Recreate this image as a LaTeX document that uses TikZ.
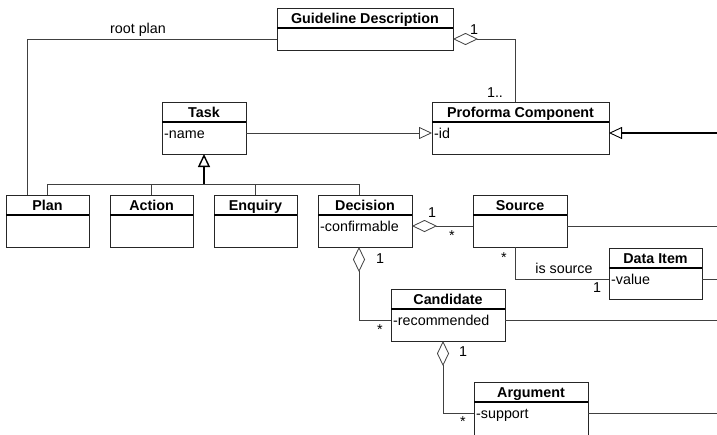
\documentclass[tikz,border=0pt]{standalone}
\usepackage{fontspec}
\setmainfont{Liberation Sans}
\usetikzlibrary{arrows.meta,calc}

\tikzset{
  clsbox/.style={draw=black!85, line width=0.9pt, fill=white, anchor=north west,
    inner sep=0pt, outer sep=0pt},
  hdrline/.style={draw=black, line width=1.6pt},
  clstitle/.style={font=\fontsize{14.3}{16}\selectfont\bfseries, anchor=base, inner sep=0pt},
  clsattr/.style={font=\fontsize{14.3}{16}\selectfont, anchor=base west, inner sep=0pt},
  lbl/.style={font=\fontsize{14.3}{16}\selectfont, inner sep=0pt},
  conn/.style={draw=black!75, line width=0.8pt},
  aggr/.style={conn, {Diamond[open,length=25pt,width=12pt]}-},
  gen/.style={conn, -{Triangle[open,length=13pt,width=12pt]}},
  genthick/.style={draw=black, line width=1.6pt, -{Triangle[open,length=13pt,width=12pt,line width=0.9pt]}},
}

% class box: name, x, y, width, height, title, attribute
\newcommand\umlclass[7]{%
  \node[clsbox, minimum width=#4pt, minimum height=#5pt] (#1) at (#2,#3) {};
  \draw[hdrline] ([yshift=-20pt]#1.north west) -- ([yshift=-20pt]#1.north east);
  \node[clstitle] (#1-t) at ([yshift=-15.5pt]#1.north) {#6};
  \node[clsattr] (#1-a) at ([xshift=2pt,yshift=-36pt]#1.north west) {#7};
  \coordinate (#1-L) at ([yshift=-31pt]#1.north west);
  \coordinate (#1-R) at ([yshift=-31pt]#1.north east);
}

\begin{document}
\begin{tikzpicture}[x=1pt,y=-1pt]
\useasboundingbox (0,0) rectangle (717,434);
\clip (0,0) rectangle (717,434);
\fill[white] (0,0) rectangle (717,434);

% classes
\umlclass{gd}{277}{8}{176}{42}{Guideline Description}{}
\umlclass{pc}{432}{102}{177}{52}{Proforma Component}{-id}
\umlclass{task}{162}{102}{84}{52}{Task}{-name}
\umlclass{plan}{6}{195}{83}{52}{Plan}{}
\umlclass{act}{110}{195}{83}{52}{Action}{}
\umlclass{enq}{214}{195}{83}{52}{Enquiry}{}
\umlclass{dec}{318}{195}{94}{52}{Decision}{-confirmable}
\umlclass{src}{473}{195}{94}{52}{Source}{}
\umlclass{di}{609}{248}{93}{51}{Data Item}{-value}
\umlclass{cand}{391}{289}{114}{52}{Candidate}{-recommended}
\umlclass{arg}{474}{382}{114}{70}{Argument}{-support}

% free ends running off to the right
\coordinate (eP) at (717,133);
\coordinate (eS) at (717,226);
\coordinate (eD) at (717,279);
\coordinate (eC) at (717,320);
\coordinate (eA) at (717,413);

% root plan association
\draw[conn] ([xshift=21pt]plan.north west) |- (gd-L);
\node[lbl] (lroot) at (138,30) {root plan};

% guideline aggregates proforma components
\draw[aggr] (gd-R) -| ([xshift=-5.5pt]pc.north);
\node[lbl] (m1) at (474,30) {1};
\node[lbl] (m2) at (495,93) {1..};

% generalisations
\draw[gen] (task-R) -- (pc-L);
\draw[genthick] (eP) -- (pc-R);

\coordinate (bus) at ([yshift=11pt]task.south |- plan.north);
\draw[gen, draw=black, line width=1.4pt] (bus) -- (task.south);
\draw[conn] (plan.north) |- ([xshift=-6pt]dec.north |- bus) -- ([xshift=-6pt]dec.north);
\draw[conn] (act.north) -- (act.north |- bus);
\draw[conn] (enq.north) -- (enq.north |- bus);

% decision -- source
\draw[aggr] (dec-R) -- (src-L);
\node[lbl] (m3) at (432,213) {1};
\node[lbl] (m4) at (452,236) {*};
\draw[conn] (src-R) -- (eS);

% source -- data item
\draw[conn] ([xshift=42pt]src.south west) |- (di-L);
\node[lbl] (m5) at (504,258) {*};
\node[lbl] (lsrc) at (564,268) {is source};
\node[lbl] (m6) at (597,288) {1};
\draw[conn] (di-R) -- (eD);

% decision -- candidate
\draw[aggr] ([xshift=-6pt]dec.south) |- (cand-L);
\node[lbl] (m7) at (380,259) {1};
\node[lbl] (m8) at (380,330) {*};
\draw[conn] (cand-R) -- (eC);

% candidate -- argument
\draw[aggr] ([xshift=-5pt]cand.south) |- (arg-L);
\node[lbl] (m9) at (463,352) {1};
\node[lbl] (m10) at (463,422) {*};
\draw[conn] (arg-R) -- (eA);
\end{tikzpicture}
\end{document}
